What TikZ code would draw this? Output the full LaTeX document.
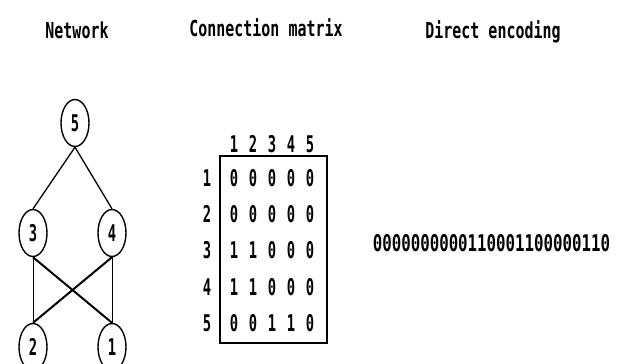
\documentclass[tikz,border=0pt]{standalone}
\usepackage{fontspec}
\setmonofont{DejaVu Sans Mono}
\usepackage{graphicx}
\usetikzlibrary{shapes.geometric}

% condensed bitmap-like lettering
\newcommand\narrow[2][0.68]{\scalebox{#1}[1]{#2}}

\begin{document}
\begin{tikzpicture}[x=1pt,y=-1pt,
  pixfont/.style={font=\ttfamily\bfseries\fontsize{22}{22}\selectfont, inner sep=0pt},
  digfont/.style={font=\ttfamily\bfseries\fontsize{23}{23}\selectfont, inner sep=0pt},
  unit/.style={ellipse, draw, line width=1.4pt, minimum width=28pt, minimum height=47pt, inner sep=0pt, digfont},
  wthin/.style={line width=0.8pt},
  wmid/.style={line width=1.3pt},
  wthick/.style={line width=2pt}
]
\useasboundingbox (0,0) rectangle (621,364);

% column titles
\node[pixfont, anchor=base] (tnet) at (77,38) {\narrow{Network}};
\node[pixfont, anchor=base] (tmat) at (266,36) {\narrow{Connection matrix}};
\node[pixfont, anchor=base] (tenc) at (493,38) {\narrow{Direct encoding}};

% network
\node[unit] (n5) at (75,123) {\narrow[0.6]{5}};
\node[unit] (n3) at (33,233) {\narrow[0.6]{3}};
\node[unit] (n4) at (112,233) {\narrow[0.6]{4}};
\node[unit] (n2) at (33,347) {\narrow[0.6]{2}};
\node[unit] (n1) at (112,347) {\narrow[0.6]{1}};

\draw[wmid] (n5.south) -- (n3.north);
\draw[wmid] (n5.south) -- (n4.north);
\draw[wthin] (n3.south) -- (n2.north);
\draw[wthick] (n3.south) -- (n1.north);
\draw[wthick] (n4.south) -- (n2.north);
\draw[wthin] (n4.south) -- (n1.north);

% connection matrix
\node[draw, line width=1.4pt, minimum width=107pt, minimum height=187pt, inner sep=0pt] (box) at (273.5,249.5) {};
\foreach \c/\x in {1/234,2/253,3/272,4/291,5/310}
  \node[digfont] (col\c) at (\x,144) {\narrow[0.6]{\c}};
\foreach \r/\y in {1/178,2/214,3/250,4/287,5/323}
  \node[digfont] (row\r) at (207,\y) {\narrow[0.6]{\r}};
\foreach \r/\y/\vals in {1/178/{0,0,0,0,0},2/214/{0,0,0,0,0},3/250/{1,1,0,0,0},4/287/{1,1,0,0,0},5/323/{0,0,1,1,0}}
  \foreach \v [count=\c] in \vals
    \node[digfont] (m\r\c) at ({215+19*\c},\y) {\narrow[0.6]{\v}};

% direct encoding
\node[digfont] (enc) at (491.5,243) {\narrow[0.686]{0000000000110001100000110}};
\end{tikzpicture}
\end{document}
